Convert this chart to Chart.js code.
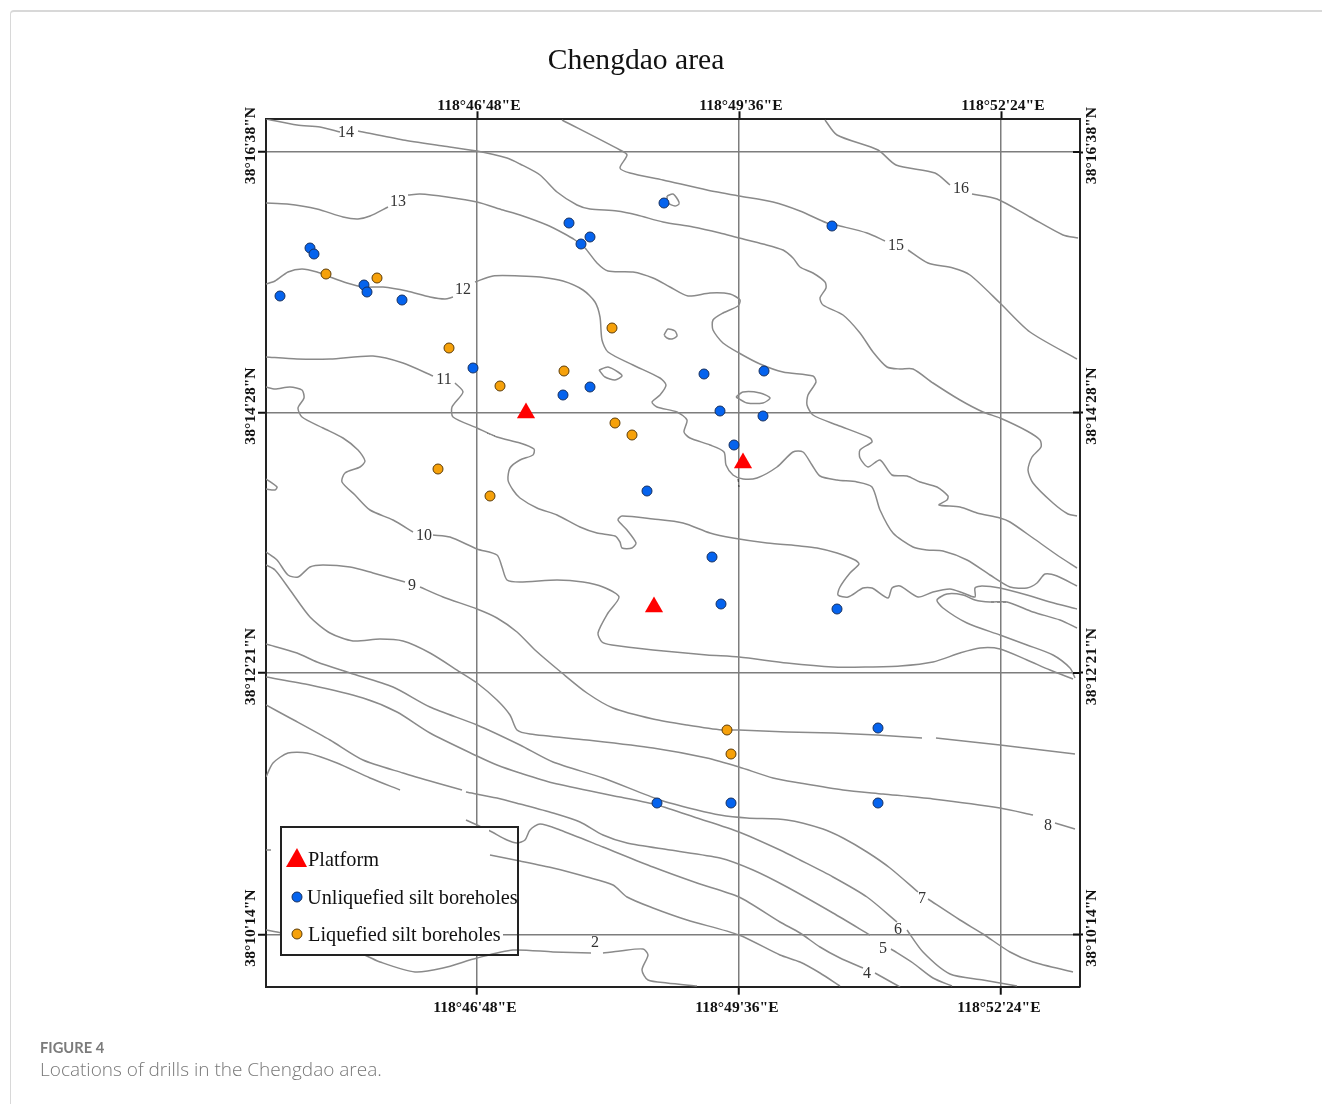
<!DOCTYPE html>
<html lang="en">
<head>
    <meta charset="UTF-8">
    <title>Chengdao area</title>
    <script src="https://cdn.jsdelivr.net/npm/chart.js"></script>
    <style>
        html, body { margin: 0; padding: 0; background: #fff; overflow: hidden; }
        body { width: 1322px; height: 1104px; position: relative; }
        #card { position: absolute; left: 10px; top: 10px; width: 1400px; height: 1200px; border: 1px solid #d8d8d8; border-top-width: 2px; border-top-left-radius: 4px; box-sizing: border-box; }
        #title { position: absolute; left: 336px; width: 600px; top: 43px; text-align: center; font: 29.6px "Liberation Serif", serif; color: #111; }
        #fig { position: absolute; left: 40px; top: 1038px; font: 700 14.7px Lato, sans-serif; color: #7b7b7b; }
        #cap { position: absolute; left: 40px; top: 1056px; font: 300 19px "Open Sans", sans-serif; color: #777; }
        canvas { position: absolute; left: 0; top: 0; }
    </style>
</head>
<body>
    <div id="card"></div>
    <canvas id="map" width="1322" height="1104"></canvas>
    <div id="title">Chengdao area</div>
    <div id="fig">FIGURE 4</div>
    <div id="cap">Locations of drills in the Chengdao area.</div>
    <script>
        // map extent and graticule
        var xRange = [266, 1080];
        var yRange = [119.3, 986.7];
        var xTicks = [477, 739, 1001];
        var yTicks = [152, 412.5, 673, 934.5];
        var xTickLabels = ['118°46\'48"E', '118°49\'36"E', '118°52\'24"E'];
        var yTickLabels = ['38°16\'38"N', '38°14\'28"N', '38°12\'21"N', '38°10\'14"N'];

        // depth contours, each one a list of segments (gaps are where the labels sit)
        var contour16 = [
            [[825,120],[837,135],[878,150],[896,165],[935,173],[950,185]],
            [[972,194],[997,199],[1030,217],[1063,235],[1078,238]]
        ];
        var contour15 = [
            [[562,120],[620,150],[627,155],[620,168],[630,173],[663,180],[707,190],[739,196],[773,202],[800,211],[827,223],[840,226],[867,233],[885,241]],
            [[908,250],[928,263],[953,268],[970,275],[1000,303],[1030,332],[1077,359]]
        ];
        var contour14 = [
            [[266,119],[297,125],[320,127],[340,132]],
            [[358,131],[403,140],[443,146],[477,151],[507,158],[520,164],[540,175],[557,192],[577,205],[590,209],[617,211],[637,215],[663,222],[693,227],[720,233],[739,238],[763,244],[783,250],[793,258],[800,267],[813,273],[825,282],[826,288],[820,298],[823,305],[843,315],[860,333],[873,352],[887,367],[900,369],[913,369],[933,383],[960,400],[983,412],[1000,418],[1027,431],[1040,440],[1041,447],[1032,457],[1028,470],[1033,483],[1053,503],[1068,514],[1077,516]]
        ];
        var contour13 = [
            [[266,203],[287,204],[317,209],[343,217],[358,219],[370,216],[388,207]],
            [[408,195],[420,194],[447,197],[477,202],[503,210],[520,215],[547,225],[563,233],[575,240],[585,248],[597,263],[608,271],[633,272],[653,278],[670,287],[688,296],[710,293],[730,294],[740,300],[738,306],[723,313],[713,320],[713,330],[723,343],[739,353],[760,364],[783,372],[813,376],[816,382],[808,395],[807,405],[813,415],[837,425],[870,438],[872,442],[860,450],[860,458],[868,467],[880,460],[892,475],[907,476],[920,482],[937,487],[948,496],[947,500],[939,505],[960,507],[977,513],[1000,518],[1010,522],[1033,538],[1057,555],[1077,568]]
        ];
        var contour12 = [
            [[266,284],[275,281],[288,272],[302,269],[317,272],[330,277],[347,283],[363,287],[383,287],[407,291],[430,297],[445,299],[453,297]],
            [[475,282],[493,276],[520,276],[540,277],[563,281],[583,290],[595,302],[600,317],[602,340],[608,352],[633,365],[660,378],[666,385],[660,395],[652,402],[657,407],[677,412],[687,420],[684,432],[690,438],[710,445],[724,452],[726,465],[733,475],[743,479],[757,478],[777,467],[793,452],[803,452],[812,465],[820,476],[837,480],[857,482],[872,487],[880,510],[893,533],[913,547],[927,550],[943,551],[967,560],[990,575],[1010,587],[1027,588],[1037,583],[1045,574],[1057,576],[1077,586]]
        ];
        var contour11 = [
            [[266,357],[297,359],[330,359],[373,356],[403,363],[433,376]],
            [[455,383],[463,392],[452,407],[453,417],[477,428],[497,437],[520,443],[534,449],[533,455],[520,460],[510,468],[508,480],[513,490],[520,498],[537,508],[557,515],[580,527],[597,533],[615,536],[620,542],[622,548],[632,548],[636,543],[627,530],[618,520],[622,516],[653,519],[683,523],[710,533],[733,538],[767,543],[800,546],[817,548],[837,553],[855,560],[859,564],[850,573],[840,587],[838,595],[848,597],[863,588],[872,588],[888,598],[892,588],[900,586],[918,597],[933,592],[950,589],[963,593],[975,597],[975,588],[982,586],[1000,588],[1027,595],[1050,602],[1077,609]]
        ];
        var contour10 = [
            [[266,387],[275,389],[290,387],[302,390],[304,398],[298,408],[302,417],[323,428],[343,438],[358,450],[365,461],[360,467],[345,473],[342,482],[355,495],[370,510],[393,520],[413,532]],
            [[433,535],[450,537],[477,549],[497,555],[502,567],[507,580],[520,582],[557,580],[583,582],[603,587],[619,597],[608,613],[598,633],[602,642],[612,645],[653,650],[707,655],[739,657],[787,663],[833,667],[867,667],[900,666],[933,662],[960,653],[980,648],[1000,649],[1027,660],[1050,670],[1073,679]]
        ];
        var contour10b = [
            [[1077,628],[1060,620],[1033,612],[1007,602],[990,602],[975,600],[963,595],[947,594],[937,600],[943,608],[967,623],[1000,635],[1027,645],[1053,655],[1070,668],[1075,678]]
        ];
        var contour9 = [
            [[266,552],[277,560],[288,575],[298,577],[310,567],[323,565],[350,567],[373,573],[405,582]],
            [[420,587],[443,597],[477,609],[497,618],[517,632],[535,650],[562,673],[587,693],[613,708],[653,719],[687,725],[722,730],[739,730],[787,732],[833,733],[877,735],[922,738]],
            [[936,738],[1000,745],[1075,754]]
        ];
        var contour8 = [
            [[266,565],[275,570],[290,590],[310,617],[330,633],[353,641],[380,639],[403,641],[430,653],[460,672],[477,683],[497,700],[510,715],[517,730],[530,734],[587,740],[653,748],[707,758],[739,767],[773,778],[800,783],[843,790],[883,794],[933,799],[1000,808],[1033,815]],
            [[1055,823],[1075,829]]
        ];
        var contour7 = [
            [[266,644],[297,653],[317,662],[350,673],[393,687],[430,707],[477,725],[520,745],[553,762],[603,778],[660,800],[697,810],[720,815],[747,818],[787,820],[823,829],[843,838],[867,852],[890,868],[918,892]],
            [[928,899],[960,920],[983,934],[1010,952],[1033,962],[1073,972]]
        ];
        var contour6 = [
            [[266,677],[310,685],[363,698],[397,712],[430,733],[477,756],[497,765],[520,773],[553,783],[620,797],[657,805],[697,818],[739,832],[780,850],[800,860],[833,877],[867,897],[897,922]],
            [[907,930],[923,952],[950,974],[983,980],[1017,986]]
        ];
        var contour5 = [
            [[266,705],[290,718],[330,740],[363,760],[403,773],[437,783],[462,790]],
            [[466,792],[497,798],[520,804],[553,813],[580,822],[603,835],[627,843],[670,850],[720,858],[753,870],[787,887],[833,913],[870,935]],
            [[891,949],[913,963],[933,978],[952,986]]
        ];
        var contour4 = [
            [[466,820],[477,825],[490,831],[507,840],[517,843],[525,840],[530,830],[540,824],[560,830],[603,847],[653,867],[697,883],[739,897],[780,922],[800,933],[820,947],[840,958],[863,968]],
            [[875,973],[900,987]]
        ];
        var contour3 = [
            [[490,855],[520,861],[553,868],[587,877],[613,885],[627,897],[653,908],[687,920],[739,935],[780,955],[800,962],[820,973],[840,986]]
        ];
        var contour2 = [
            [[266,930],[281,933],[320,944],[362,954],[380,962],[415,972],[443,968],[477,958],[513,950],[553,952],[591,953]],
            [[603,953],[620,951],[643,949],[648,955],[642,970],[648,980],[667,983],[697,986]]
        ];
        var stubWest = [
            [[266,777],[273,763],[288,753],[307,753],[337,763],[370,778],[400,790]],
            [[266,850],[271,850]]
        ];
        var loops = [
            [[667,196],[673,194],[678,200],[679,204],[675,206],[668,203],[667,196]],
            [[664,335],[668,329],[675,331],[677,336],[672,339],[667,338],[664,335]],
            [[599,370],[608,367],[618,372],[622,376],[615,380],[605,377],[599,370]],
            [[736,397],[743,392],[760,393],[770,398],[763,403],[747,403],[736,397]],
            [[266,479],[277,487],[275,490],[266,489]]
        ];
        // little dark scraps left over on the scan
        var specks = [
            [[991,602],[1006,602]],
            [[738,479],[739,487]],
            [[487,433],[495,436]]
        ];

        // contour labels
        var contourLabels = ['14','13','12','11','10','9','8','7','6','5','4','2','15','16'];
        var contourLabelX = [346,398,463,444,424,412,1048,922,898,883,867,595,896,961];
        var contourLabelY = [133,202,290,380,536,586,826,899,930,949,974,943,246,189];

        // sites
        var platforms = [[526,413],[743,463],[654,607]];
        var unliquefied = [[310,248],[314,254],[280,296],[364,285],[367,292],[402,300],[473,368],[569,223],[581,244],[590,237],[664,203],[832,226],[704,374],[764,371],[563,395],[590,387],[720,411],[763,416],[734,445],[647,491],[712,557],[721,604],[837,609],[878,728],[657,803],[731,803],[878,803]];
        var liquefied = [[326,274],[377,278],[612,328],[449,348],[564,371],[500,386],[615,423],[632,435],[438,469],[490,496],[727,730],[731,754]];
        var legendLabels = ['Platform', 'Unliquefied silt boreholes', 'Liquefied silt boreholes'];

        function toPoints(list) {
            return list.map(function(p) { return {x: p[0], y: p[1]}; });
        }

        var datasets = [
            {label: legendLabels[0], data: toPoints(platforms), pointStyle: 'triangle', pointRadius: 10.5, backgroundColor: '#ff0000', borderColor: '#ff0000', borderWidth: 0, order: 0},
            {label: legendLabels[1], data: toPoints(unliquefied), pointRadius: 5, backgroundColor: '#0563ee', borderColor: '#17305f', borderWidth: 1, order: 0},
            {label: legendLabels[2], data: toPoints(liquefied), pointRadius: 5, backgroundColor: '#f6a10a', borderColor: '#5c3c08', borderWidth: 1, order: 0}
        ];
        [contour16, contour15, contour14, contour13, contour12, contour11, contour10, contour10b, contour9, contour8, contour7, contour6, contour5, contour4, contour3, contour2, stubWest, loops].forEach(function(segments) {
            segments.forEach(function(seg) {
                datasets.push({data: toPoints(seg), showLine: true, pointRadius: 0, borderColor: '#8a8a8a', borderWidth: 1.5, tension: 0.25, order: 1});
            });
        });
        specks.forEach(function(seg) {
            datasets.push({data: toPoints(seg), showLine: true, pointRadius: 0, borderColor: '#333', borderWidth: 1, borderDash: [3, 3], order: 1});
        });

        var tickFont = {family: '"Liberation Serif"', size: 15.6, weight: 'bold'};

        function fixTicks(values) {
            return function(scale) {
                scale.ticks = values.map(function(v) { return {value: v}; });
            };
        }
        function fixSize(prop, size) {
            return function(scale) { scale[prop] = size; };
        }

        // contour numbers, inner ticks on the east edge and the boxed legend
        var mapDecor = {
            id: 'mapDecor',
            afterDatasetsDraw: function(chart) {
                var ctx = chart.ctx, sx = chart.scales.x, sy = chart.scales.y;
                ctx.save();
                ctx.font = '16px "Liberation Serif"';
                ctx.fillStyle = '#333';
                ctx.textAlign = 'center';
                ctx.textBaseline = 'middle';
                contourLabels.forEach(function(t, i) {
                    ctx.fillText(t, sx.getPixelForValue(contourLabelX[i]), sy.getPixelForValue(contourLabelY[i]));
                });

                ctx.strokeStyle = '#111';
                ctx.lineWidth = 2;
                yTicks.forEach(function(v) {
                    var py = sy.getPixelForValue(v);
                    ctx.beginPath();
                    ctx.moveTo(chart.chartArea.right - 7, py);
                    ctx.lineTo(chart.chartArea.right, py);
                    ctx.stroke();
                });

                ctx.fillStyle = '#fff';
                ctx.fillRect(281, 827, 208, 128);
                ctx.fillRect(489, 885, 29, 25);
                ctx.fillRect(489, 922, 14, 24);
                ctx.strokeStyle = '#222';
                ctx.lineWidth = 2;
                ctx.strokeRect(281, 827, 237, 128);

                ctx.fillStyle = '#ff0000';
                ctx.beginPath();
                ctx.moveTo(297, 848);
                ctx.lineTo(307, 867);
                ctx.lineTo(286, 867);
                ctx.closePath();
                ctx.fill();
                [[897, '#0563ee', '#17305f'], [934, '#f6a10a', '#5c3c08']].forEach(function(m) {
                    ctx.beginPath();
                    ctx.arc(297, m[0], 5, 0, Math.PI * 2);
                    ctx.fillStyle = m[1];
                    ctx.fill();
                    ctx.strokeStyle = m[2];
                    ctx.lineWidth = 1;
                    ctx.stroke();
                });

                ctx.fillStyle = '#111';
                ctx.textAlign = 'left';
                ctx.textBaseline = 'alphabetic';
                ctx.font = '20.3px "Liberation Serif"';
                ctx.fillText(legendLabels[0], 308, 866);
                ctx.fillText(legendLabels[1], 307, 904);
                ctx.fillText(legendLabels[2], 308, 941);
                ctx.restore();
            }
        };

        var gridX = {color: '#7d7d7d', lineWidth: 1.5, tickColor: '#111', tickWidth: 2, tickLength: 8};

        new Chart(document.getElementById('map').getContext('2d'), {
            type: 'scatter',
            data: {datasets: datasets},
            plugins: [mapDecor],
            options: {
                responsive: false,
                animation: false,
                layout: {padding: {left: 206, right: 182, top: 79.3, bottom: 77.3}},
                plugins: {legend: {display: false}, tooltip: {enabled: false}},
                scales: {
                    x: {
                        position: 'bottom', min: xRange[0], max: xRange[1],
                        afterBuildTicks: fixTicks(xTicks), afterFit: fixSize('height', 40),
                        grid: gridX,
                        border: {color: '#222', width: 2},
                        ticks: {font: tickFont, color: '#111', padding: 4, autoSkip: false, maxRotation: 0, labelOffset: -2,
                            callback: function(v) { return xTickLabels[xTicks.indexOf(v)]; }}
                    },
                    x2: {
                        position: 'top', min: xRange[0], max: xRange[1],
                        afterBuildTicks: fixTicks(xTicks), afterFit: fixSize('height', 40),
                        grid: {drawOnChartArea: false, tickColor: '#111', tickWidth: 2, tickLength: 8},
                        border: {color: '#222', width: 2},
                        ticks: {font: tickFont, color: '#111', padding: -4, autoSkip: false, maxRotation: 0, labelOffset: 2,
                            callback: function(v) { return xTickLabels[xTicks.indexOf(v)]; }}
                    },
                    y: {
                        position: 'left', reverse: true, min: yRange[0], max: yRange[1],
                        afterBuildTicks: fixTicks(yTicks), afterFit: fixSize('width', 60),
                        grid: gridX,
                        border: {color: '#222', width: 2},
                        ticks: {font: tickFont, color: '#111', minRotation: 90, maxRotation: 90, crossAlign: 'center', padding: -32, autoSkip: false, labelOffset: -6.5,
                            callback: function(v) { return yTickLabels[yTicks.indexOf(v)]; }}
                    },
                    y2: {
                        position: 'right', reverse: true, min: yRange[0], max: yRange[1],
                        afterBuildTicks: fixTicks(yTicks), afterFit: fixSize('width', 60),
                        grid: {drawOnChartArea: false, tickColor: '#111', tickWidth: 2, tickLength: 3},
                        border: {color: '#222', width: 2},
                        ticks: {font: tickFont, color: '#111', minRotation: 90, maxRotation: 90, crossAlign: 'center', padding: -29.5, autoSkip: false, labelOffset: -6.5,
                            callback: function(v) { return yTickLabels[yTicks.indexOf(v)]; }}
                    }
                }
            }
        });
    </script>
</body>
</html>
